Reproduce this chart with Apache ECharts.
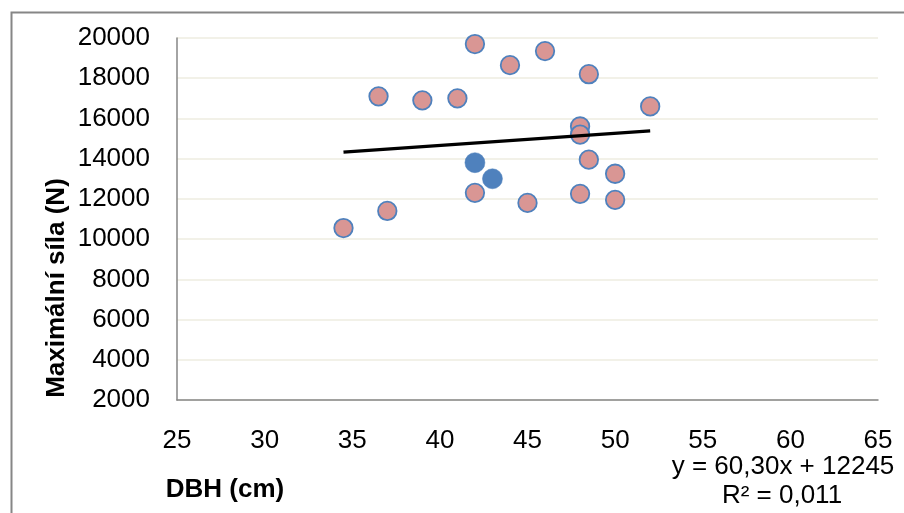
<!DOCTYPE html>
<html>
<head>
<meta charset="utf-8">
<script src="https://cdn.jsdelivr.net/npm/echarts@6/dist/echarts.min.js"></script>
<style>html,body{margin:0;padding:0;background:#fff;}#c{width:904px;height:513px;}</style>
</head>
<body>
<div id="c"></div>
<script>
// DBH (cm) and maximum force (N) - main group (pink)
const pinkX = [34.5, 37, 36.5, 39, 41, 42, 44, 46, 48.5, 52, 48, 48, 48.5, 50, 42, 45, 48, 50];
const pinkY = [10550, 11400, 17100, 16900, 17000, 19700, 18650, 19350, 18200, 16600, 15600, 15200, 13950, 13250, 12300, 11800, 12250, 11950];
// highlighted group (blue)
const blueX = [42, 43];
const blueY = [13800, 13000];
// linear trend endpoints (y = 60.30x + 12245)
const trendX = [34.5, 52];
const trendY = [14325, 15381];
const xTicks = [25, 30, 35, 40, 45, 50, 55, 60, 65];
const yTicks = [2000, 4000, 6000, 8000, 10000, 12000, 14000, 16000, 18000, 20000];
const yTitle = 'Maximální síla (N)';
const xTitle = 'DBH (cm)';
const eqText = 'y = 60,30x + 12245';
const r2Text = 'R² = 0,011';

const FONT = 'Liberation Sans, Arial, sans-serif';
const FS = 26;
const chart = echarts.init(document.getElementById('c'), null, {renderer: 'canvas'});
const zip = (a, b) => a.map((v, i) => [v, b[i]]);
chart.setOption({
  animation: false,
  backgroundColor: '#fff',
  grid: {left: 177, top: 38, right: 26, bottom: 113},
  xAxis: {
    type: 'value', min: xTicks[0], max: xTicks[xTicks.length - 1], interval: 5,
    axisLine: {show: true, onZero: false, lineStyle: {color: '#868686', width: 1.5}},
    axisTick: {show: false},
    splitLine: {show: false},
    axisLabel: {color: '#000', fontSize: FS, fontFamily: FONT, margin: 28, formatter: v => String(v)}
  },
  yAxis: {
    type: 'value', min: yTicks[0], max: yTicks[yTicks.length - 1], interval: 2000,
    axisLine: {show: true, onZero: false, lineStyle: {color: '#868686', width: 1.5}},
    axisTick: {show: false},
    splitLine: {show: true, lineStyle: {color: '#EEECE1', width: 1.5}},
    axisLabel: {color: '#000', fontSize: FS, fontFamily: FONT, margin: 27, formatter: v => String(v)}
  },
  series: [
    {
      type: 'line', data: zip(trendX, trendY), showSymbol: false, symbol: 'none',
      lineStyle: {color: '#000', width: 3.3}, z: 3
    },
    {
      type: 'scatter', data: zip(pinkX, pinkY), symbolSize: 18.5,
      itemStyle: {color: '#D99694', borderColor: '#4F81BD', borderWidth: 1.8, opacity: 1}, z: 2
    },
    {
      type: 'scatter', data: zip(blueX, blueY), symbolSize: 20,
      itemStyle: {color: '#4F81BD', borderColor: '#4F81BD', borderWidth: 0.5, opacity: 1}, z: 2
    }
  ],
  graphic: [
    {type: 'polyline', shape: {points: [[11.5, 513], [11.5, 12.5], [904, 12.5]]}, style: {stroke: '#868686', lineWidth: 2, fill: null}, silent: true},
    {type: 'text', x: 57, y: 288, rotation: Math.PI / 2, style: {text: yTitle, font: 'bold ' + FS + 'px ' + FONT, fill: '#000', textAlign: 'center', textVerticalAlign: 'middle'}},
    {type: 'text', x: 225, y: 490, style: {text: xTitle, font: 'bold ' + FS + 'px ' + FONT, fill: '#000', textAlign: 'center', textVerticalAlign: 'middle'}},
    {type: 'text', x: 783, y: 467, style: {text: eqText, font: FS + 'px ' + FONT, fill: '#000', textAlign: 'center', textVerticalAlign: 'middle'}},
    {type: 'text', x: 782, y: 496, style: {text: r2Text, font: FS + 'px ' + FONT, fill: '#000', textAlign: 'center', textVerticalAlign: 'middle'}}
  ]
});
</script>
</body>
</html>
